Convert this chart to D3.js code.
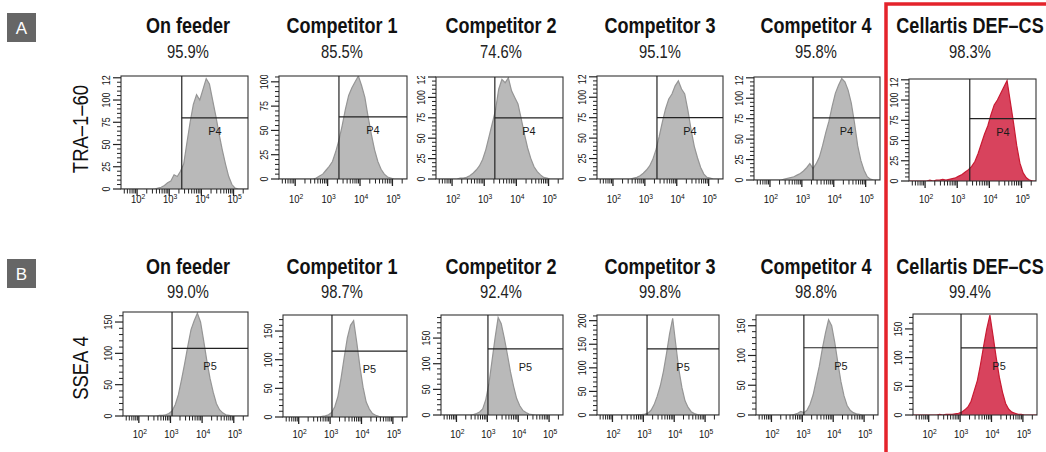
<!DOCTYPE html>
<html><head><meta charset="utf-8">
<script src="https://cdn.jsdelivr.net/npm/d3@7"></script>
<style>body{margin:0;background:#fff;} svg{display:block;}</style>
</head><body><svg id="c" width="1046" height="452"></svg>
<script>
// ---------------- DATA ----------------
const columns = ["On feeder", "Competitor 1", "Competitor 2", "Competitor 3", "Competitor 4", "Cellartis DEF–CS"];
const rowLetters = ["A", "B"];
const rowMarkers = ["TRA–1–60", "SSEA 4"];
const gateNames = ["P4", "P5"];
const traPercent = ["95.9%", "85.5%", "74.6%", "95.1%", "95.8%", "98.3%"];
const sseaPercent = ["99.0%", "98.7%", "92.4%", "99.8%", "98.8%", "99.4%"];
const xTickExponents = [2, 3, 4, 5];
const xDomainLog = [1.5, 5.45];
// histogram bins: bin i is centred on log10 = 1.55 + 0.1 i
const binStart = 1.5, binStep = 0.1;

const tra_onFeeder   = [0,0,0,0,0,0,0,0,0,0,0, 1,2,4,7,9,16,14,20,28,52,75,95,106,100,112,124,118,100,82,62,44,28,14,5,1, 0,0,0,0];
const tra_comp1      = [0,0,0,0,0,0,0,0,0,0,0, 1,3,5,9,13,18,28,40,55,72,86,94,100,106,96,84,64,46,30,18,10,5,2,1,0, 0,0,0,0];
const tra_comp2      = [0,0,0,0,0,0,0, 1,1,2,4,7,11,16,24,36,52,68,84,110,122,118,124,108,100,92,74,55,38,25,15,9,5,2,1, 0,0,0,0,0];
const tra_comp3      = [0,0,0,0,0,0,0,0,0,0,0, 1,2,4,7,11,16,24,36,52,70,86,98,104,114,120,110,104,84,60,40,26,14,6,2,1, 0,0,0,0];
const tra_comp4      = [0,0,0,0,0,0,0,0,0, 1,2,3,4,6,8,11,15,20,14,20,28,42,58,72,90,106,116,124,120,110,94,70,42,24,12,4,1, 0,0,0];
const tra_cellartis  = [0,0,0,0,0,0, 1,0,1,1,2,1,2,3,4,6,8,11,14,18,24,34,46,58,68,82,94,100,108,116,124,98,72,44,22,10,4,1, 0,0];

const ssea_onFeeder  = [0,0,0,0,0,0,0,0,0,0,0, 1,1,2,4,8,18,34,58,84,112,138,152,164,150,120,88,60,38,20,10,5,2,1, 0,0,0,0,0,0];
const ssea_comp1     = [0,0,0,0,0,0,0,0,0,0,0,0, 1,2,4,8,18,36,68,104,138,160,168,130,88,52,26,14,6,3,1, 0,0,0,0,0,0,0,0,0];
const ssea_comp2     = [0,0,0,0,0,0,0,0,0,0, 1,3,6,12,30,60,105,150,190,178,150,118,84,56,32,18,9,5,2,1, 0,0,0,0,0,0,0,0,0,0];
const ssea_comp3     = [0,0,0,0,0,0,0,0,0,0,0,0,0, 1,1,2,4,10,22,40,62,92,130,172,205,150,96,58,30,16,7,3,1, 0,0,0,0,0,0,0];
const ssea_comp4     = [0,0,0,0,0,0,0,0,0,0,0,0, 1,3,6,4,8,18,34,58,82,112,138,160,150,122,88,56,32,16,8,4,2,1, 0,0,0,0,0,0];
const ssea_cellartis = [0,0,0,0,0,0,0,0, 1,0,1,1,1,2,3,5,9,14,24,42,60,88,120,150,174,138,100,66,40,20,10,5,3,1,1, 0,0,0,0,0];

const traHist  = [tra_onFeeder, tra_comp1, tra_comp2, tra_comp3, tra_comp4, tra_cellartis];
const sseaHist = [ssea_onFeeder, ssea_comp1, ssea_comp2, ssea_comp3, ssea_comp4, ssea_cellartis];
const traYMax  = [127, 106, 125, 126, 126, 126];
const sseaYMax = [166, 178, 195, 212, 168, 176];
const traYStep = 25, sseaYStep = 50;
const traGateX  = [3.39, 3.35, 3.33, 3.38, 3.35, 3.39];
const sseaGateX = [3.05, 3.06, 3.02, 3.12, 3.05, 3.03];
const traGateY  = [80, 64, 75, 75, 76, 77];
const sseaGateY = [108, 115, 129, 140, 113, 117];

// ---------------- LAYOUT ----------------
const frameL = [[121, 279, 436, 597, 754, 909], [123, 283, 441, 597, 756, 913]];
const frameR = [[248, 407, 563, 723, 880, 1036], [248, 407, 563, 719, 878, 1037]];
const frameT = [[76, 76, 77, 76, 77, 79], [312, 315, 315, 315, 315, 314]];
const frameB = [[189, 179, 179, 179, 180, 181], [416, 417, 415, 415, 415, 415]];
const titleX = [188, 342, 501, 660, 816, 970];
const titleY = [33, 274], pctY = [58, 298], xLabelY = [203, 438];
const boxY = [13, 259], markerY = [129, 368], gateLabelDy = [17, 22];

const SANS = "'Liberation Sans', Arial, sans-serif";
const NARROW_SCALE = 0.82;

const svg = d3.select("#c");
const defs = svg.append("defs");

// condensed text helper (horizontal squeeze of Liberation Sans)
function ctext(parent, x, y, str, size, opts = {}) {
  const rot = opts.rotate ? ` rotate(${opts.rotate})` : "";
  const t = parent.append("text")
    .attr("transform", `translate(${x},${y})${rot} scale(${opts.scale || NARROW_SCALE},1)`)
    .attr("text-anchor", opts.anchor || "middle")
    .attr("font-family", SANS).attr("font-size", size)
    .attr("font-weight", opts.weight || 400)
    .attr("fill", opts.fill || "#222");
  if (str !== null) t.text(str);
  return t;
}

const rows = [
  {hist: traHist, pct: traPercent, yMax: traYMax, yStep: traYStep, gx: traGateX, gy: traGateY},
  {hist: sseaHist, pct: sseaPercent, yMax: sseaYMax, yStep: sseaYStep, gx: sseaGateX, gy: sseaGateY}
];

rows.forEach((row, r) => {
  svg.append("rect").attr("x", 7).attr("y", boxY[r]).attr("width", 29).attr("height", 29).attr("fill", "#666");
  svg.append("text").attr("x", 21.5).attr("y", boxY[r] + 21).attr("text-anchor", "middle")
    .attr("font-family", SANS).attr("font-size", 17).attr("fill", "#fff").text(rowLetters[r]);
  ctext(svg, 88, markerY[r], rowMarkers[r], 22, {rotate: -90, fill: "#111", scale: 0.84});

  columns.forEach((col, c) => {
    const L = frameL[r][c], R = frameR[r][c], T = frameT[r][c], B = frameB[r][c];
    const x = d3.scaleLinear().domain(xDomainLog).range([L, R]);
    const y = d3.scaleLinear().domain([0, row.yMax[c]]).range([B, T]);
    const g = svg.append("g");

    ctext(g, titleX[c], titleY[r], col, 22, {weight: 700, fill: "#111"});
    ctext(g, titleX[c], pctY[r], row.pct[c], 18, {fill: "#222"});

    const clipId = `clip-${r}-${c}`;
    defs.append("clipPath").attr("id", clipId).append("rect")
      .attr("x", L).attr("y", T).attr("width", R - L).attr("height", B - T);
    const labClip = `lclip-${r}-${c}`;
    defs.append("clipPath").attr("id", labClip).append("rect")
      .attr("x", L - 30).attr("y", T - 1).attr("width", 30).attr("height", B - T + 12);

    const counts = row.hist[c];
    const pts = counts.map((v, i) => ({lx: binStart + (i + 0.5) * binStep, v}));
    pts.unshift({lx: binStart, v: 0});
    pts.push({lx: binStart + counts.length * binStep, v: 0});
    const red = c === 5;
    const area = d3.area().x(d => x(d.lx)).y0(y(0)).y1(d => y(d.v));
    const line = d3.line().x(d => x(d.lx)).y(d => y(d.v));
    const hg = g.append("g").attr("clip-path", `url(#${clipId})`);
    hg.append("path").attr("d", area(pts)).attr("fill", red ? "#d8435d" : "#b9b9b9");
    hg.append("path").attr("d", line(pts)).attr("fill", "none")
      .attr("stroke", red ? "#c81a32" : "#959595").attr("stroke-width", 1.2);

    g.append("rect").attr("x", L).attr("y", T).attr("width", R - L).attr("height", B - T)
      .attr("fill", "none").attr("stroke", "#333").attr("stroke-width", 1.1);

    const gxp = x(row.gx[c]), gyp = y(row.gy[c]);
    g.append("line").attr("x1", gxp).attr("x2", gxp).attr("y1", T).attr("y2", B)
      .attr("stroke", "#222").attr("stroke-width", 1.2);
    g.append("line").attr("x1", gxp).attr("x2", R).attr("y1", gyp).attr("y2", gyp)
      .attr("stroke", "#222").attr("stroke-width", 1.2);
    ctext(g, (gxp + R) / 2, gyp + gateLabelDy[r], gateNames[r], 11.5, {scale: 0.95, fill: "#1a1a1a"});

    const ymax = row.yMax[c], step = row.yStep;
    d3.range(0, ymax + 0.001, step / 5).forEach(v => {
      const major = Math.abs(v / step - Math.round(v / step)) < 1e-6;
      g.append("line").attr("x1", L - (major ? 8 : 4)).attr("x2", L).attr("y1", y(v)).attr("y2", y(v))
        .attr("stroke", "#222").attr("stroke-width", major ? 1.2 : 1);
    });
    const yl = g.append("g").attr("clip-path", `url(#${labClip})`);
    d3.range(0, ymax + 0.001, step).forEach(v => {
      ctext(yl, L - 11, y(v), String(v), 10.5, {rotate: -90, scale: 0.85, fill: "#111"});
    });

    for (let d = 1; d <= 5; d++) {
      for (let m = 2; m <= 9; m++) {
        const lv = d + Math.log10(m);
        if (lv < xDomainLog[0] || lv > xDomainLog[1]) continue;
        g.append("line").attr("x1", x(lv)).attr("x2", x(lv)).attr("y1", B).attr("y2", B + 4.5)
          .attr("stroke", "#222").attr("stroke-width", 1);
      }
    }
    xTickExponents.forEach(e => {
      g.append("line").attr("x1", x(e)).attr("x2", x(e)).attr("y1", B).attr("y2", B + 7)
        .attr("stroke", "#222").attr("stroke-width", 1.3);
      const t = ctext(g, x(e) + 1, xLabelY[r], null, 10.5, {scale: 0.9, fill: "#111"});
      t.append("tspan").text("10");
      t.append("tspan").attr("dy", -4.5).attr("font-size", 7.5).text(e);
    });
  });
});

svg.append("path").attr("d", "M886,452 V4 H1046").attr("fill", "none")
  .attr("stroke", "#e4232b").attr("stroke-width", 3.5);
</script></body></html>
